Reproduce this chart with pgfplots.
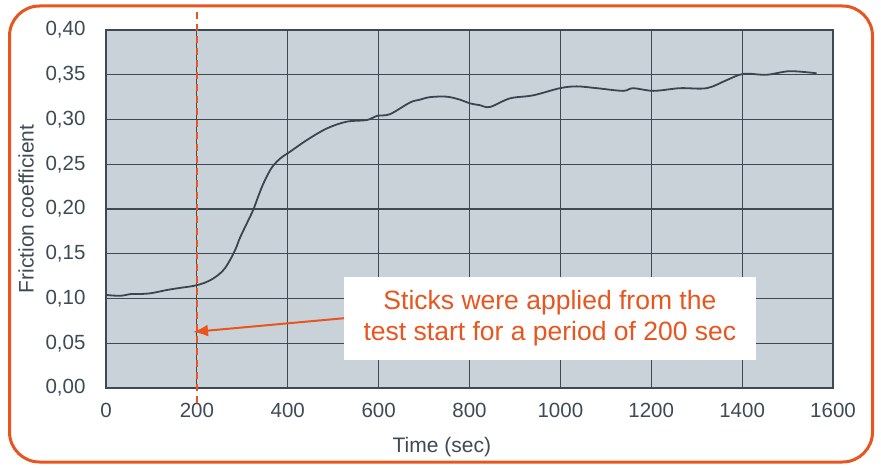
\documentclass[border=0pt]{standalone}
\usepackage{fontspec}
\setmainfont{Liberation Sans}
\usepackage{pgfplots}
\pgfplotsset{compat=1.18}
\usetikzlibrary{arrows.meta}
\definecolor{bdorange}{HTML}{E8551E}
\definecolor{txtgray}{HTML}{3E4A54}
\definecolor{gridc}{HTML}{3D4A54}
\definecolor{plotbg}{HTML}{C9D2D9}
\definecolor{curvec}{HTML}{3A454F}
\begin{document}
\begin{tikzpicture}
\useasboundingbox (0,0) rectangle (881pt,467pt);
\fill[white] (0,0) rectangle (881pt,467pt);
\draw[bdorange, line width=3pt, rounded corners=30pt] (9.5pt,5pt) rectangle (872.5pt,461pt);
\begin{axis}[
  at={(106pt,79pt)}, anchor=south west,
  scale only axis, width=727pt, height=358pt,
  xmin=0, xmax=1600, ymin=0, ymax=0.4,
  xtick={0,200,...,1600},
  ytick={0,0.05,0.10,0.15,0.20,0.25,0.30,0.35,0.40},
  grid=major,
  major grid style={gridc, line width=1.1pt},
  axis line style={gridc, line width=1.1pt},
  major tick length=0pt,
  axis background/.style={fill=plotbg},
  clip=false,
  /pgf/number format/assume math mode=true,
  ticklabel style={font=\fontsize{20.5}{24}\selectfont, text=txtgray},
  yticklabel style={/pgf/number format/.cd, fixed, fixed zerofill, precision=2, use comma, /tikz/.cd, xshift=-17pt},
  xticklabel style={/pgf/number format/.cd, 1000 sep={}, /tikz/.cd, yshift=-12pt},
  xlabel={Time (sec)},
  ylabel={Friction coefficient},
  label style={font=\fontsize{21}{25}\selectfont, text=txtgray},
  xlabel style={at={(axis description cs:0.462,-0.165)}, anchor=center},
  ylabel style={at={(axis description cs:-0.110,0.5)}, anchor=center},
]
\addplot[curvec, line width=1.8pt, smooth, tension=0.55] coordinates {
(0,0.104) (31,0.103) (55,0.105) (75,0.105) (100,0.106) (134,0.1095) (165,0.112)
(192,0.114) (214,0.117) (235,0.122) (251,0.128) (262,0.134) (273,0.143) (285,0.155) (295,0.168)
(310,0.184) (324,0.199) (335,0.214) (346,0.228) (362,0.244) (376,0.253) (390,0.259) (405,0.264) (442,0.277)
(486,0.290) (530,0.2976) (574,0.2994) (596,0.304) (625,0.306) (669,0.319)
(690,0.322) (713,0.325) (750,0.3255) (780,0.322) (801,0.318) (823,0.316)
(845,0.314) (889,0.3236) (940,0.327) (999,0.335) (1036,0.337) (1080,0.335)
(1138,0.332) (1160,0.335) (1205,0.332) (1263,0.335) (1322,0.335) (1366,0.344)
(1403,0.351) (1454,0.350) (1505,0.354) (1564,0.3516)
};
\draw[bdorange, line width=1.5pt, dash pattern=on 7pt off 5pt] (axis cs:200,-0.017) -- (axis cs:200,0.42);
\draw[bdorange, line width=2pt, -{Latex[length=15pt,width=12pt]}] (axis cs:524,0.078) -- (axis cs:191.5,0.0626);
\node[fill=white, minimum width=412pt, minimum height=83pt, inner sep=0pt, text=bdorange, align=center, font=\fontsize{26.5}{31}\selectfont] at (axis cs:977,0.0777) {Sticks were applied from the\\test start for a period of 200 sec};
\end{axis}
\end{tikzpicture}
\end{document}
